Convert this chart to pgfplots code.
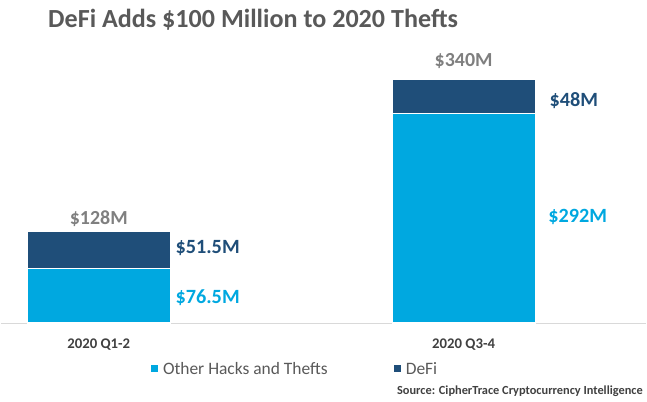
\documentclass[border=0pt]{standalone}
\usepackage{fontspec}
\setmainfont{Carlito}
\usepackage{pgfplots}
\pgfplotsset{compat=1.18}
\definecolor{lblue}{HTML}{00A8E0}
\definecolor{dblue}{HTML}{1F4E79}
\definecolor{tgray}{HTML}{595959}
\definecolor{lgray}{HTML}{7F7F7F}
\definecolor{dgray}{HTML}{404040}
\begin{document}
\begin{tikzpicture}[x=1bp,y=1bp]
\path[use as bounding box] (0,0) rectangle (647,401);
\begin{axis}[
  at={(1bp,78bp)}, anchor=south west,
  scale only axis, width=645bp, height=287bp,
  xmin=-0.268, xmax=1.5, ymin=0, ymax=400,
  axis y line=none, axis x line=bottom,
  x axis line style={-, draw=black!15, line width=1bp},
  ybar stacked, bar width=143bp,
  xtick={0,1}, xticklabels={2020 Q1-2,2020 Q3-4},
  major tick length=0,
  xticklabel style={anchor=base, yshift=-25bp, font=\fontsize{14.8}{14.8}\selectfont\bfseries, text=dgray},
  legend columns=2,
  legend style={draw=none, fill=none, at={(0.2275,-0.16)}, anchor=west,
    font=\fontsize{17.5}{17.5}\selectfont, text=tgray,
    /tikz/every even column/.append style={column sep=64bp}},
  legend image code/.code={\fill[#1,draw=none] (0bp,-3.5bp) rectangle (7bp,3.5bp); \path (9.5bp,0bp);},
  clip=false,
]
\addplot[fill=lblue, draw=white, line width=1.2bp] coordinates {(0,76.5) (1,292)};
\addplot[fill=dblue, draw=white, line width=1.2bp] coordinates {(0,51.5) (1,48)};
\legend{Other Hacks and Thefts, DeFi}
\node[anchor=base, inner sep=0, text=lgray, font=\fontsize{20}{20}\selectfont\bfseries] at (axis cs:0,136.6) {\$128M};
\node[anchor=base, inner sep=0, text=lgray, font=\fontsize{20}{20}\selectfont\bfseries] at (axis cs:1,358) {\$340M};
\node[anchor=base west, inner sep=0, text=dblue, font=\fontsize{20.3}{20}\selectfont\bfseries] at (axis cs:0.21,97) {\$51.5M};
\node[anchor=base west, inner sep=0, text=lblue, font=\fontsize{20.3}{20}\selectfont\bfseries] at (axis cs:0.21,27.4) {\$76.5M};
\node[anchor=base west, inner sep=0, text=dblue, font=\fontsize{20.3}{20}\selectfont\bfseries] at (axis cs:1.235,301.5) {\$48M};
\node[anchor=base west, inner sep=0, text=lblue, font=\fontsize{20.3}{20}\selectfont\bfseries] at (axis cs:1.232,139.8) {\$292M};
\end{axis}
\node[anchor=base west, inner sep=0, text=tgray, font=\fontsize{26.2}{26}\selectfont\bfseries] at (48,374) {DeFi Adds \$100 Million to 2020 Thefts};
\node[anchor=base east, inner sep=0, text=dgray, font=\fontsize{12.4}{12}\selectfont\bfseries] at (643,7) {Source: CipherTrace Cryptocurrency Intelligence};
\end{tikzpicture}
\end{document}
